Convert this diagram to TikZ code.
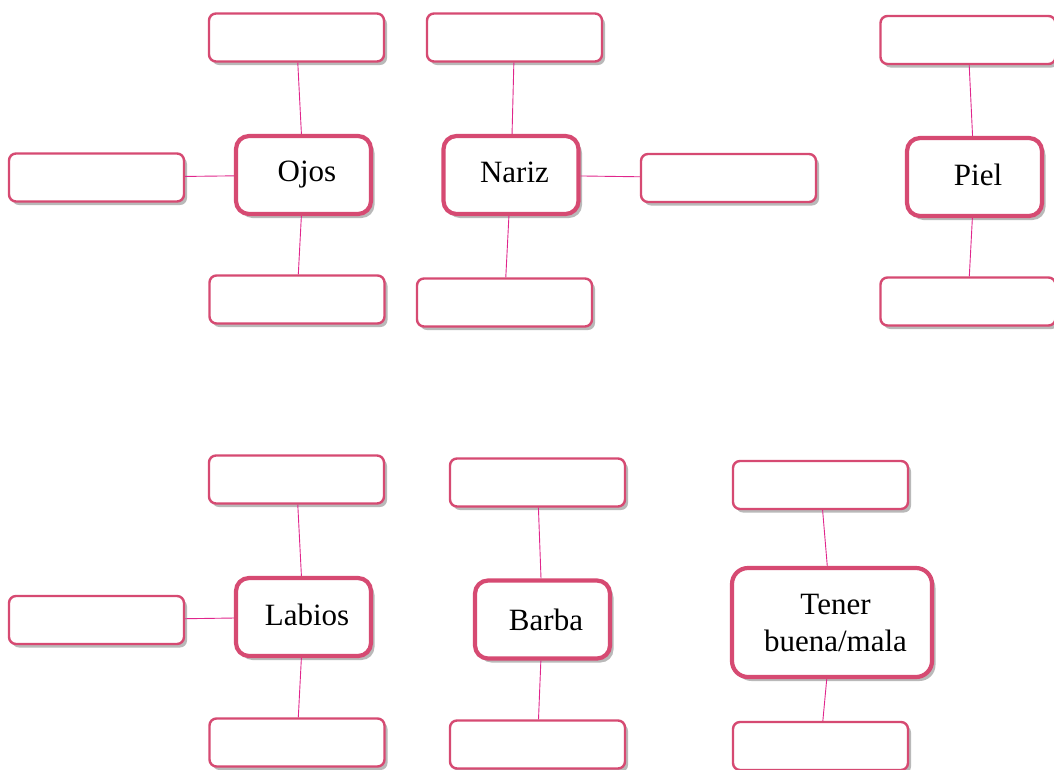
\documentclass[tikz,border=0pt]{standalone}
\usepackage{fontspec}
\setmainfont{Liberation Serif}
\usetikzlibrary{shadows}
\definecolor{boxline}{HTML}{D64A72}
\definecolor{linkline}{HTML}{E0268C}
\newcommand\mylbl[2]{\hspace*{7pt}\raisebox{#1}{#2}}
\tikzset{
  smallbox/.style={draw=boxline, line width=2.4pt, rounded corners=7pt, fill=white,
    drop shadow={shadow xshift=3pt, shadow yshift=-3.5pt, opacity=0.5, fill=black!55},
    minimum width=175pt, minimum height=48pt, inner sep=0pt},
  bigbox/.style={draw=boxline, line width=4.2pt, rounded corners=13pt, fill=white,
    drop shadow={shadow xshift=3.5pt, shadow yshift=-4pt, opacity=0.5, fill=black!55},
    minimum width=135pt, minimum height=78pt, inner sep=0pt, font=\fontsize{31}{37}\selectfont,
    align=center},
  link/.style={draw=linkline, line width=0.9pt}
}
\begin{document}
\begin{tikzpicture}[x=1pt,y=-1pt]
\useasboundingbox (0,0) rectangle (1054,769);
% Ojos group
\node[smallbox] (ojosT) at (296.5,37.5) {};
\node[smallbox] (ojosL) at (96.5,177.5) {};
\node[smallbox] (ojosB) at (297,299.5) {};
\node[bigbox] (ojos) at (303.5,175) {\mylbl{5pt}{Ojos}};
% Nariz group
\node[smallbox] (narT) at (514.5,37.5) {};
\node[smallbox] (narR) at (728.5,178) {};
\node[smallbox] (narB) at (504.5,302.5) {};
\node[bigbox] (nariz) at (511,175) {\mylbl{5pt}{Nariz}};
% Piel group
\node[smallbox] (pielT) at (968,40) {};
\node[smallbox] (pielB) at (968,301.5) {};
\node[bigbox] (piel) at (974.5,177) {\mylbl{5pt}{Piel}};
% Labios group
\node[smallbox] (labT) at (296.5,479.5) {};
\node[smallbox] (labL) at (96.5,620) {};
\node[smallbox] (labB) at (297,742.5) {};
\node[bigbox] (labios) at (303.5,617) {\mylbl{5pt}{Labios}};
% Barba group
\node[smallbox] (barT) at (537.5,482.5) {};
\node[smallbox] (barB) at (537.5,744.5) {};
\node[bigbox] (barba) at (542.5,619.5) {\mylbl{0pt}{Barba}};
% Tener group
\node[smallbox] (tenT) at (820.5,485) {};
\node[smallbox] (tenB) at (820.5,746) {};
\node[bigbox, minimum width=200pt, minimum height=109pt, rounded corners=16pt] (tener) at (832,622.5) {\mylbl{-2pt}{Tener}\\\mylbl{-2pt}{buena/mala}};
% connectors
\draw[link] (ojosT) -- (ojos);
\draw[link] (ojosL) -- (ojos);
\draw[link] (ojos) -- (ojosB);
\draw[link] (narT) -- (nariz);
\draw[link] (nariz) -- (narR);
\draw[link] (nariz) -- (narB);
\draw[link] (pielT) -- (piel);
\draw[link] (piel) -- (pielB);
\draw[link] (labT) -- (labios);
\draw[link] (labL) -- (labios);
\draw[link] (labios) -- (labB);
\draw[link] (barT) -- (barba);
\draw[link] (barba) -- (barB);
\draw[link] (tenT) -- (tener);
\draw[link] (tener) -- (tenB);
\end{tikzpicture}
\end{document}
